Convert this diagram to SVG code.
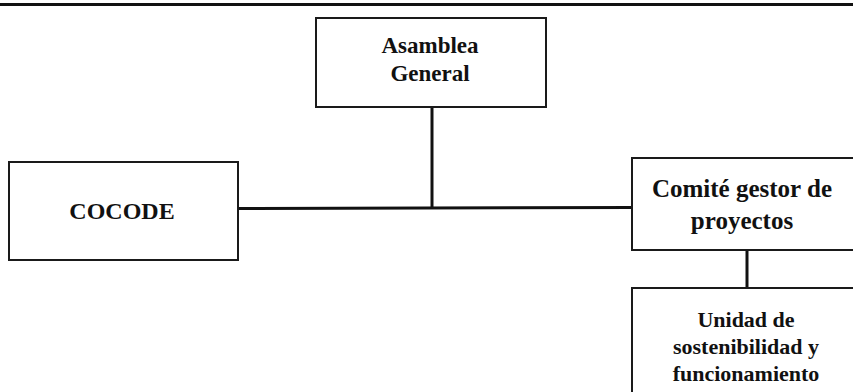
<svg xmlns="http://www.w3.org/2000/svg" width="853" height="392" viewBox="0 0 853 392">
<style>
.box{fill:#fff;stroke:#1a1a1a;stroke-width:2}
.t{font-family:"Liberation Serif","Times New Roman",serif;font-weight:bold;fill:#111;text-anchor:middle}
.c{stroke:#111;stroke-width:3;fill:none}
</style>
<rect width="853" height="392" fill="#fff"/>
<line x1="0" y1="4.5" x2="853" y2="4.5" stroke="#111" stroke-width="3"/>
<g id="connectors">
<line class="c" x1="432" y1="107" x2="432" y2="208.5"/>
<line class="c" x1="238" y1="208.5" x2="632" y2="207.5"/>
<line class="c" x1="747" y1="250" x2="747" y2="288"/>
</g>
<g id="asamblea">
<rect class="box" x="316" y="18" width="230" height="89"/>
<text class="t" x="430" y="53" font-size="23">Asamblea</text>
<text class="t" x="430" y="81" font-size="23">General</text>
</g>
<g id="cocode">
<rect class="box" x="9" y="162" width="229" height="98"/>
<text class="t" x="122" y="219" font-size="24">COCODE</text>
</g>
<g id="comite">
<rect class="box" x="632" y="158" width="230" height="92"/>
<text class="t" x="742" y="197" font-size="25">Comité gestor de</text>
<text class="t" x="742" y="229" font-size="25">proyectos</text>
</g>
<g id="unidad">
<rect class="box" x="632" y="288" width="230" height="120"/>
<text class="t" x="746" y="327" font-size="22">Unidad de</text>
<text class="t" x="746" y="354" font-size="22">sostenibilidad y</text>
<text class="t" x="746" y="381" font-size="22">funcionamiento</text>
</g>
</svg>
